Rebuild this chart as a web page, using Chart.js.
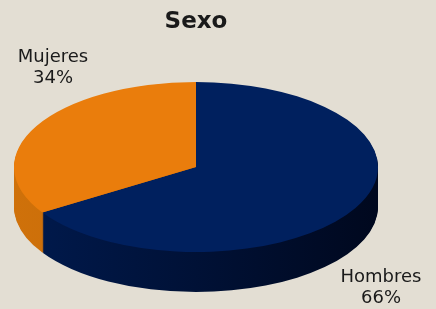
<!DOCTYPE html>
<html>
<head>
<meta charset="utf-8">
<script src="https://cdn.jsdelivr.net/npm/chart.js@4"></script>
<style>
html,body{margin:0;padding:0;background:#E3DED3;}
#wrap{width:436px;height:309px;position:relative;}
</style>
</head>
<body>
<div id="wrap"><canvas id="c" width="436" height="309"></canvas></div>
<script>
const title = 'Sexo';
const categories = ['Hombres', 'Mujeres'];
const values = [66, 34];
const topColors = ['#00205E', '#EA7D0C'];
const sideLight = ['#001A4E', '#CF710A'];
const sideDark  = ['#00081E', '#B86208'];

const RX = 182, RY = 85, DEPTH = 40;

const pie3d = {
  id: 'pie3d',
  beforeDatasetsDraw(chart) {
    const arcs = chart.getDatasetMeta(0).data;
    const a0 = arcs[0];
    const cx = a0.x, cy = a0.y, r = a0.outerRadius;
    const sx = RX / r, sy = RY / r;
    const ctx = chart.ctx;
    for (let d = DEPTH; d >= 1; d--) {
      arcs.forEach((arc, i) => {
        ctx.save();
        ctx.translate(cx, cy + d);
        ctx.scale(sx, sy);
        const g = ctx.createLinearGradient(-r, 0, r, 0);
        g.addColorStop(0, sideLight[i]);
        g.addColorStop(1, sideDark[i]);
        ctx.fillStyle = g;
        ctx.beginPath();
        ctx.moveTo(0, 0);
        ctx.arc(0, 0, r, arc.startAngle, arc.endAngle);
        ctx.closePath();
        ctx.fill();
        ctx.restore();
      });
    }
    ctx.save();
    ctx.translate(cx, cy);
    ctx.scale(sx, sy);
    ctx.translate(-cx, -cy);
  },
  afterDatasetsDraw(chart) {
    chart.ctx.restore();
    const ctx = chart.ctx;
    ctx.save();
    ctx.fillStyle = '#1A1A1A';
    ctx.textAlign = 'center';
    ctx.textBaseline = 'alphabetic';
    ctx.font = 'bold 23px "DejaVu Sans"';
    ctx.fillText(title, 196, 28);
    ctx.font = '18px "DejaVu Sans"';
    const total = values.reduce((a, b) => a + b, 0);
    const labelPos = [[381, 282], [53, 62]];
    categories.forEach((c, i) => {
      const [x, y] = labelPos[i];
      ctx.fillText(c, x, y);
      ctx.fillText(Math.round(values[i] / total * 100) + '%', x, y + 21);
    });
    ctx.restore();
  }
};

new Chart(document.getElementById('c'), {
  type: 'pie',
  data: {
    labels: categories,
    datasets: [{
      data: values,
      backgroundColor: topColors,
      borderWidth: 0
    }]
  },
  options: {
    responsive: false,
    animation: false,
    events: [],
    layout: { padding: { left: 96, right: 140, top: 67, bottom: 42 } },
    plugins: {
      legend: { display: false },
      title: { display: false },
      tooltip: { enabled: false }
    }
  },
  plugins: [pie3d]
});
</script>
</body>
</html>
